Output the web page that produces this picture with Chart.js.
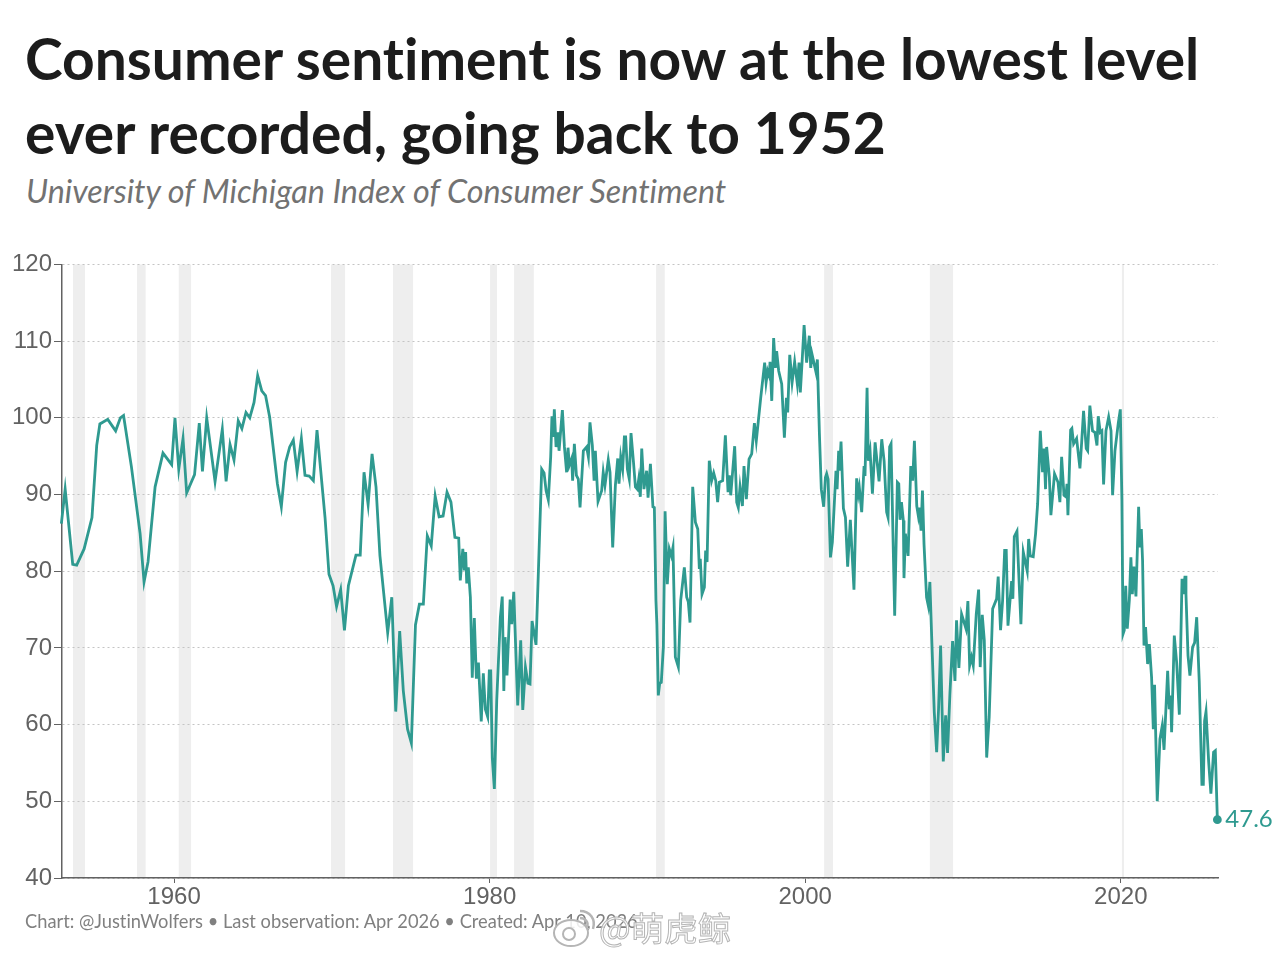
<!DOCTYPE html>
<html>
<head>
<meta charset="utf-8">
<script src="https://cdn.jsdelivr.net/npm/chart.js@4"></script>
<style>
  html, body { margin: 0; padding: 0; background: #fff; }
  body { position: relative; width: 1280px; height: 960px; overflow: hidden; font-family: Lato, sans-serif; font-variant-ligatures: none; }
  #title { position: absolute; left: 25px; top: 21px; margin: 0; font-size: 56.9px; line-height: 74px; font-weight: 700; color: #1c1c1c; white-space: nowrap; }
  #subtitle { position: absolute; left: 26px; top: 171px; font-size: 32.3px; font-style: italic; color: #727272; white-space: nowrap; }
  #chartWrap { position: absolute; left: 0; top: 248px; width: 1280px; height: 667px; }
  #footer { position: absolute; left: 25px; top: 910px; font-size: 18.3px; color: #808080; white-space: nowrap; }
  #mark { position: absolute; left: 599px; top: 905px; font-family: "Noto Sans CJK SC", sans-serif; font-size: 33.5px; line-height: 44px; color: rgba(255,255,255,0.75); -webkit-text-stroke: 1px #b5b5b5; white-space: nowrap; }
  #logo { position: absolute; left: 552px; top: 907px; }
</style>
</head>
<body>
<h1 id="title">Consumer sentiment is now at the lowest level<br>ever recorded, going back to 1952</h1>
<div id="subtitle">University of Michigan Index of Consumer Sentiment</div>
<div id="chartWrap"><canvas id="sentimentChart"></canvas></div>
<div id="footer">Chart: @JustinWolfers • Last observation: Apr 2026 • Created: Apr 10, 2026</div>
<svg id="logo" width="46" height="42" viewBox="0 0 46 42">
  <ellipse cx="19" cy="26" rx="17" ry="13" fill="rgba(255,255,255,0.85)" stroke="#b5b5b5" stroke-width="2"/>
  <circle cx="17" cy="27" r="6" fill="none" stroke="#b5b5b5" stroke-width="2"/>
  <path d="M28 4 C38 4 44 12 41 22 M28 11 C33 11 37 15 35 20" fill="none" stroke="#b5b5b5" stroke-width="2.5"/>
</svg>
<div id="mark">@萌虎鲸</div>

<script>
const obsYears = [
  1952.86,1953.1,1953.58,1953.83,1954.3,1954.8,1955.1,1955.3,1955.8,1956.3,1956.6,1956.8,1957.3,1957.85,1958.1,1958.35,1958.8,1959.3,1959.85,
  1960.06,1960.3,1960.57,1960.8,1961.3,1961.6,1961.8,1962.07,1962.6,1963.06,1963.3,1963.55,1963.8,1964.07,1964.3,1964.56,1964.8,
  1965.07,1965.3,1965.56,1965.8,1966.06,1966.55,1966.8,1967.07,1967.33,1967.56,1967.8,1968.07,1968.3,1968.57,1968.83,1969.06,1969.57,1969.82,
  1970.08,1970.3,1970.56,1970.8,1971.05,1971.53,1971.8,1972.04,1972.3,1972.55,1972.8,1973.05,1973.54,1973.8,1974.05,1974.3,1974.53,1974.8,
  1975.04,1975.3,1975.55,1975.8,1976.05,1976.3,1976.55,1976.8,1977.05,1977.3,1977.55,1977.8,1978.04,1978.14,1978.3,1978.4,1978.48,1978.55,1978.65,1978.78,1978.9,
  1979.03,1979.16,1979.29,1979.47,1979.6,1979.73,1979.88,1979.98,1980.07,1980.17,1980.3,1980.45,1980.68,1980.8,1980.9,1980.98,1981.1,1981.3,1981.4,1981.53,1981.78,1981.97,
  1982.1,1982.27,1982.43,1982.56,1982.69,1982.94,1983.3,1983.45,1983.58,1983.72,1983.87,1983.95,1984.04,1984.1,1984.21,1984.33,1984.4,1984.61,1984.74,1984.88,1984.97,
  1985.05,1985.2,1985.26,1985.37,1985.5,1985.62,1985.73,1985.94,1986.15,1986.26,1986.36,1986.51,1986.62,1986.7,1986.87,1987.1,1987.2,1987.31,1987.52,1987.63,1987.8,1987.97,
  1988.12,1988.2,1988.31,1988.43,1988.54,1988.62,1988.73,1988.85,1988.96,1989.11,1989.24,1989.36,1989.45,1989.55,1989.64,1989.78,1989.95,1990.04,1990.19,1990.35,1990.44,1990.54,1990.6,1990.69,1990.78,1990.88,
  1991.01,1991.12,1991.26,1991.39,1991.52,1991.62,1991.77,1991.96,1992.11,1992.34,1992.49,1992.59,1992.7,1992.87,1993.04,1993.19,1993.29,1993.35,1993.46,1993.61,1993.69,1993.78,1993.92,
  1994.07,1994.2,1994.33,1994.45,1994.56,1994.77,1994.94,1995.11,1995.19,1995.28,1995.53,1995.66,1995.76,1995.87,1996.02,1996.12,1996.27,1996.44,1996.61,1996.78,1996.9,1997.03,1997.18,
  1997.43,1997.52,1997.62,1997.73,1997.77,1997.88,1998,1998.11,1998.19,1998.32,1998.51,1998.68,1998.81,1998.89,1999.02,1999.17,1999.33,1999.5,1999.61,1999.69,1999.8,1999.93,
  2000.09,2000.26,2000.35,2000.43,2000.69,2000.77,2000.9,2001.02,2001.17,2001.28,2001.36,2001.45,2001.6,2001.72,2001.95,2002.02,2002.12,2002.17,2002.27,2002.42,2002.55,2002.69,2002.86,
  2003.09,2003.26,2003.37,2003.43,2003.58,2003.73,2003.79,2003.92,2004,2004.11,2004.26,2004.43,2004.68,2004.85,2005,2005.16,2005.25,2005.35,2005.44,2005.67,2005.84,2005.93,
  2006.01,2006.1,2006.22,2006.26,2006.35,2006.52,2006.69,2006.81,2006.92,2007.07,2007.17,2007.24,2007.34,2007.43,2007.53,2007.69,2007.8,2007.9,
  2008.03,2008.18,2008.33,2008.45,2008.58,2008.75,2008.9,2009.02,2009.17,2009.34,2009.49,2009.59,2009.74,2009.91,2010.19,2010.31,2010.42,2010.54,2010.65,2010.84,2010.99,
  2011.09,2011.22,2011.35,2011.5,2011.66,2011.88,2012.13,2012.23,2012.38,2012.51,2012.64,2012.74,2012.85,2013.08,2013.16,2013.25,2013.42,2013.67,2013.82,2013.95,
  2014.07,2014.16,2014.26,2014.45,2014.6,2014.73,2014.9,2015.04,2015.13,2015.23,2015.3,2015.47,2015.57,2015.8,2016.02,2016.14,2016.25,2016.4,2016.52,2016.59,2016.65,2016.82,2016.9,
  2017.01,2017.2,2017.41,2017.52,2017.64,2017.81,2017.9,2018.04,2018.21,2018.36,2018.49,2018.57,2018.7,2018.8,2018.91,2019.06,2019.23,2019.38,2019.48,2019.63,2019.84,2019.97,
  2020.07,2020.14,2020.22,2020.31,2020.41,2020.54,2020.64,2020.73,2020.83,2020.96,2021.13,2021.21,2021.3,2021.38,2021.47,2021.57,2021.7,2021.81,2021.95,
  2022.06,2022.14,2022.31,2022.48,2022.63,2022.74,2022.97,2023.07,2023.16,2023.22,2023.39,2023.54,2023.71,2023.88,2023.96,
  2024.07,2024.13,2024.26,2024.38,2024.55,2024.68,2024.81,2024.97,2025.14,2025.23,2025.31,2025.4,2025.57,2025.71,2025.88,2025.99,2026.12
];
const sentiment = [
  86.2,90.7,80.9,80.8,82.9,87,96.4,99.2,99.8,98.3,100,100.3,93.6,84.9,78.6,81.2,91,95.4,93.9,
  100,93.3,97.3,90.2,92.6,99.3,93,100,91.7,98.5,91.7,96.5,94.5,99.6,98.6,100.7,100,
  102,105.5,103.5,102.9,100.1,91.4,88.4,94.2,96.2,97.1,93,97.3,92.5,92.4,91.8,98.4,87,79.6,
  78.1,75.4,77.6,72.3,78.1,82.1,82.1,92.9,88.7,95.3,91,82,72,76.6,61.7,72.2,64.4,59.4,
  57.6,73,75.7,75.7,84.6,83.3,89.8,87.1,87.2,90.3,89,84.4,84.3,78.8,82.9,80.1,82.5,78.4,80.5,76.6,66.1,
  73.9,66,68.1,60.4,66.7,62,61,67,67,55.7,51.6,63.1,74,76.7,64.4,71.4,66.4,76.3,73.1,77.3,62.5,71,
  61.9,67.5,65.4,65.3,73.5,70.4,93.3,92.8,90.5,89.3,94.9,100.2,97.5,101.1,96.2,98.1,95.7,101,96.2,92.9,96.1,
  93.8,94.7,91.8,96.6,92.5,92,88.3,95.7,96.2,94.9,99.4,96.4,91.8,95.7,89.1,90.5,92.9,91.2,94.5,92.9,83.1,91.2,
  94.7,91.4,94.9,93.3,97.5,97.5,93.3,92,98,94.4,91,90.7,92,89.7,96,90.7,93.1,89.6,94,88.4,88.3,76.2,73.1,63.8,65.4,65.5,
  70.1,87.8,78.3,82.9,82,83.1,68.8,67.5,76.2,80.5,76.6,76,73.3,91,86.4,85.5,80.3,81.6,77,77.9,82.7,81.2,94.4,
  91.8,92.8,91.8,89,91.6,91.8,97.7,90.3,92.5,89.9,96.3,89,88.3,91,88.5,93.7,89.4,94.6,95.3,99.3,97,99.6,102.6,
  107.2,104.6,106.1,105.4,107.3,102.2,110.4,106.5,108.7,106.1,104.4,97.4,102.6,100.7,108.2,104.6,107.3,104.4,107.2,103.3,107.2,112.1,
  107.2,110.7,106.5,108.3,105.9,107.6,97.9,90.7,88.4,92.2,92.7,92,81.8,83.8,93.1,90.7,95.7,93.1,96.9,88.2,87,80.6,86.7,
  77.6,92.1,90.1,90.9,87.7,93.7,92.4,103.9,94.4,95.7,90.1,96.8,91.7,97.2,94.4,87.7,87,96.2,96.6,74.2,91.6,91.4,
  86.7,89,86.6,79.1,84.9,82,93.7,91.8,97,88.5,87.2,88.3,85.3,90.5,83.5,76.6,75.5,78.6,
  70.5,61.6,56.4,62,70.3,55.2,61.2,56.3,64,70.9,65.7,73.6,67.4,74.4,72.5,76.1,67.7,68.8,67.7,74.4,77.6,
  67.5,74.3,71,55.7,61,75.1,76.4,79.3,72.3,76.2,82.7,82.7,72.9,78.7,76.4,84.5,85.2,73.1,82.5,81.2,
  80,84.2,82,81.9,84.9,88.8,98.3,92.9,96,90.7,96.2,92.3,87.3,92.7,91.6,89,94.9,89.9,89.7,91.4,87.3,98.4,98.6,
  96.6,97.3,93.4,96.8,100.9,96,95.7,101.6,98.3,98.1,96.4,100.2,98.1,98.3,91.3,98.3,100.1,98.3,89.9,95.7,99.3,101.1,
  89.2,71.8,72.3,78.1,72.5,76.2,81.8,77,80.6,76.7,88.4,83.1,85.5,81.4,70.3,72.7,67.9,70.5,66.2,
  59.4,65.2,50,58.1,59.9,56.7,67,62,63.8,59,71.6,68.1,61.3,79,77,
  79.4,77,69,66.4,70.1,70.7,74,65.7,52.2,52.2,60.5,61.7,55.1,51,56.4,56.6,47.6
];

// 衰退区间（灰色竖条）
const recessionStarts = [1953.6,1957.65,1960.3,1969.95,1973.88,1980.03,1981.55,1990.55,2001.2,2007.9,2020.07];
const recessionEnds = [1954.36,1958.2,1961.08,1970.84,1975.15,1980.47,1982.8,1991.1,2001.76,2009.37,2020.2];

const xTicks = [1960,1980,2000,2020];
const yTicks = [40,50,60,70,80,90,100,110,120];
const LINE_COLOR = '#2f9a90';
const AXIS_COLOR = '#626262';
const TICK_FONT = { family: '"Liberation Sans", Arial, sans-serif', size: 24 };

// 画衰退色块
const recessionBands = {
  id: 'recessionBands',
  beforeDraw(chart) {
    const { ctx, chartArea, scales } = chart;
    ctx.save();
    ctx.fillStyle = '#eeeeee';
    recessionStarts.forEach((s, i) => {
      const x0 = scales.x.getPixelForValue(s);
      const x1 = scales.x.getPixelForValue(recessionEnds[i]);
      ctx.fillRect(x0, chartArea.top, x1 - x0, chartArea.bottom - chartArea.top);
    });
    ctx.restore();
  }
};

// 末端数值标签
const lastLabel = {
  id: 'lastLabel',
  afterDatasetsDraw(chart) {
    const { ctx, scales } = chart;
    const last = sentiment.length - 1;
    ctx.save();
    ctx.fillStyle = LINE_COLOR;
    ctx.font = '24px Lato, sans-serif';
    ctx.textBaseline = 'middle';
    ctx.fillText(String(sentiment[last]), scales.x.getPixelForValue(obsYears[last]) + 8, scales.y.getPixelForValue(sentiment[last]));
    ctx.restore();
  }
};

new Chart(document.getElementById('sentimentChart'), {
  type: 'line',
  data: {
    datasets: [{
      data: obsYears.map((y, i) => ({ x: y, y: sentiment[i] })),
      borderColor: LINE_COLOR,
      backgroundColor: LINE_COLOR,
      borderWidth: 2.8,
      tension: 0,
      clip: false,
      pointRadius: ctx => ctx.dataIndex === sentiment.length - 1 ? 3 : 0
    }]
  },
  options: {
    responsive: true,
    maintainAspectRatio: false,
    animation: false,
    layout: { padding: { left: 0, right: 62, top: 14, bottom: 0 } },
    plugins: { legend: { display: false }, tooltip: { enabled: false } },
    scales: {
      x: {
        type: 'linear',
        min: 1952.9,
        max: 2026.16,
        afterBuildTicks: axis => { axis.ticks = xTicks.map(v => ({ value: v })); },
        afterFit: axis => { axis.height = 37; },
        ticks: { font: TICK_FONT, color: AXIS_COLOR, padding: 0, maxRotation: 0, callback: v => String(v) },
        grid: { drawOnChartArea: false, tickLength: 5, tickColor: AXIS_COLOR },
        border: { color: AXIS_COLOR, width: 1.5 }
      },
      y: {
        min: 40,
        max: 120,
        afterBuildTicks: axis => { axis.ticks = yTicks.map(v => ({ value: v })); },
        afterFit: axis => { axis.width = 62; },
        ticks: { font: TICK_FONT, color: AXIS_COLOR, padding: 2 },
        grid: { color: '#c4c4c4', lineWidth: 1, tickLength: 8, tickColor: AXIS_COLOR, tickBorderDash: [] },
        border: { color: AXIS_COLOR, width: 1.5, dash: [2, 3] }
      }
    }
  },
  plugins: [recessionBands, lastLabel]
});
</script>
</body>
</html>
